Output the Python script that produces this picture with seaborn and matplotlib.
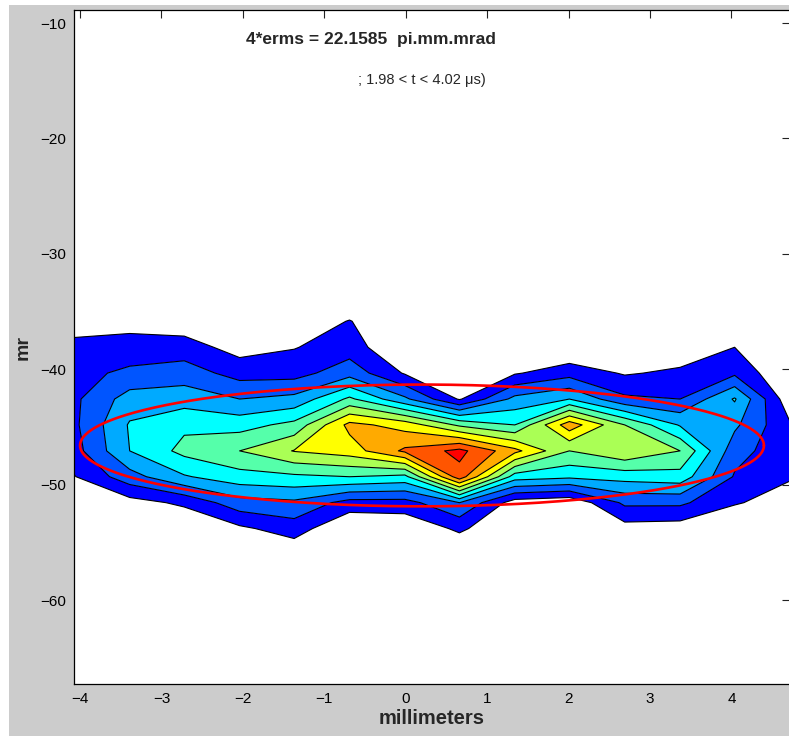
import numpy as np
import matplotlib
matplotlib.use("Agg")
import matplotlib.pyplot as plt
from matplotlib.colors import ListedColormap, BoundaryNorm
from matplotlib.patches import Rectangle
import seaborn as sns

# Histogram bin centres: position (mm) and angle (mrad)
x_mm = [-4.07, -3.39, -2.72, -2.04, -1.37, -0.69, -0.01,
        0.66, 1.34, 2.01, 2.69, 3.37, 4.04, 4.72]
y_mr = [-31.35, -33.60, -35.84, -38.09, -40.33, -42.58, -44.82,
        -47.07, -49.31, -51.56, -53.80, -56.05, -58.29, -60.54]

# Phase-space density, one row per y bin (top row first)
density = [
    [0.0, 0.0, 0.0, 0.0, 0.0, 0.0, 0.0, 0.0, 0.0, 0.0, 0.0, 0.0, 0.0, 0.0],
    [0.0, 0.0, 0.0, 0.0, 0.0, 0.0, 0.0, 0.0, 0.0, 0.0, 0.0, 0.0, 0.0, 0.0],
    [0.5, 0.6, 0.4, 0.0, 0.3, 1.05, 0.0, 0.0, 0.0, 0.0, 0.0, 0.0, 0.0, 0.0],
    [1.3, 1.45, 1.45, 0.6, 0.95, 1.5, 0.0, 0.0, 0.0, 0.0, 0.0, 0.3, 1.0, 0.0],
    [1.7, 2.2, 2.5, 1.6, 1.6, 2.6, 0.9, 0.0, 0.9, 1.6, 0.9, 1.2, 1.8, 0.0],
    [1.8, 3.45, 3.55, 3.0, 3.3, 5.2, 3.2, 0.9, 3.3, 4.0, 2.2, 2.0, 4.1, 0.3],
    [1.8, 4.1, 4.8, 4.6, 5.3, 8.3, 7.6, 5.8, 5.0, 8.6, 6.0, 3.9, 3.2, 1.1],
    [1.6, 4.0, 5.3, 6.0, 7.05, 7.5, 9.2, 10.3, 8.3, 6.0, 6.9, 6.0, 2.4, 1.3],
    [0.95, 2.6, 3.9, 4.6, 4.8, 5.0, 4.7, 9.6, 4.5, 4.2, 4.4, 4.6, 1.9, 1.1],
    [0.3, 0.6, 1.2, 2.6, 2.8, 1.6, 1.6, 3.0, 0.5, 0.2, 2.2, 2.2, 1.1, 0.5],
    [0.0, 0.0, 0.0, 0.8, 1.5, 0.0, 0.2, 1.2, 0.0, 0.0, 0.6, 0.5, 0.0, 0.0],
    [0.0, 0.0, 0.0, 0.0, 0.2, 0.0, 0.0, 0.0, 0.0, 0.0, 0.0, 0.0, 0.0, 0.0],
    [0.0, 0.0, 0.0, 0.0, 0.0, 0.0, 0.0, 0.0, 0.0, 0.0, 0.0, 0.0, 0.0, 0.0],
    [0.0, 0.0, 0.0, 0.0, 0.0, 0.0, 0.0, 0.0, 0.0, 0.0, 0.0, 0.0, 0.0, 0.0],
]

contour_levels = [1, 2, 3, 4, 5, 6, 7, 8, 9, 10, 11]
band_colors = ["#0000ff", "#0055ff", "#00aaff", "#00ffff", "#55ffaa",
               "#aaff55", "#ffff00", "#ffaa00", "#ff5500", "#ff0000"]

# RMS emittance ellipse (Twiss form, upright)
emittance = 22.1585      # pi.mm.mrad
beta_twiss = 0.796       # mm/mrad
centre_x, centre_y = 0.2, -46.6

x_ticks = [-4, -3, -2, -1, 0, 1, 2, 3, 4]
y_ticks = [-60, -50, -40, -30, -20, -10]
title_main = "4*erms = 22.1585  pi.mm.mrad"
title_sub = "; 1.98 < t < 4.02 \u03bcs)"

sns.set_theme(style="white")
plt.rcParams["font.family"] = ["Liberation Sans", "DejaVu Sans"]

W, H = 789, 736
fig = plt.figure(figsize=(W / 100, H / 100), dpi=100, facecolor="white")
fig.patches.append(Rectangle((9 / W, 0), 1, (H - 5) / H, transform=fig.transFigure,
                             facecolor="#cccccc", edgecolor="none", zorder=-10))
ax = fig.add_axes([74 / W, 52 / H, 716 / W, 674 / H])
ax.set_facecolor("white")

Xg, Yg = np.meshgrid(np.array(x_mm), np.array(y_mr)[::-1])
Z = np.array(density)[::-1]

cmap = ListedColormap(sns.color_palette(band_colors))
norm = BoundaryNorm(contour_levels, cmap.N)
ax.contourf(Xg, Yg, Z, levels=contour_levels, cmap=cmap, norm=norm,
            antialiased=True)
ax.contour(Xg, Yg, Z, levels=contour_levels[:-1], colors="black",
           linewidths=0.8)

theta = np.linspace(0, 2 * np.pi, 500)
half_w = np.sqrt(emittance * beta_twiss)
half_h = np.sqrt(emittance / beta_twiss)
ex = centre_x + half_w * np.cos(theta)
ey = centre_y + half_h * np.sin(theta)
sns.lineplot(x=ex, y=ey, sort=False, estimator=None, color="red",
             linewidth=1.9, ax=ax)

ax.set_xlim(-4.074, 4.72)
ax.set_ylim(-67.27, -8.87)
ax.set_xticks(x_ticks)
ax.set_yticks(y_ticks)
ax.tick_params(direction="in", length=5.5, width=0.8, top=True, right=True,
               labelsize=11, pad=6, color="#222222", labelcolor="black")
for sp in ax.spines.values():
    sp.set_visible(True)
    sp.set_color("black")
    sp.set_linewidth(0.9)

ax.set_xlabel("millimeters", fontsize=14.5, fontweight="bold", labelpad=2)
ax.set_ylabel("mr", fontsize=14, fontweight="bold", labelpad=6)

ax.text(0.4148, 0.9555, title_main, transform=ax.transAxes, ha="center",
        va="center", fontsize=12.5, fontweight="bold")
ax.text(0.486, 0.896, title_sub, transform=ax.transAxes, ha="center",
        va="center", fontsize=10.5)

fig.savefig("out.png", dpi=100, facecolor=fig.get_facecolor())
